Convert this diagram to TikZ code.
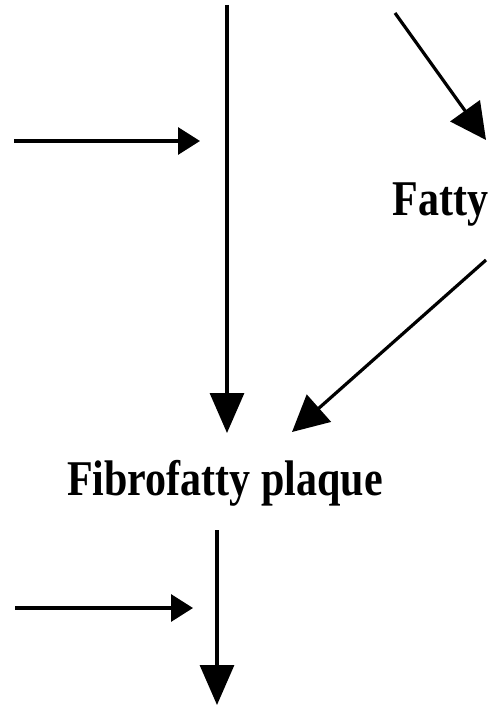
\documentclass[tikz,border=0pt]{standalone}
\usepackage{fontspec}
\setmainfont{Liberation Serif}
\usetikzlibrary{arrows.meta}
\tikzset{
  conn/.style={line width=3.2pt, -{Triangle[length=#1]}},
  bigconn/.style={line width=3.2pt, -{Triangle[length=40pt,width=34pt]}},
  smallconn/.style={line width=3.2pt, -{Triangle[length=22pt,width=27pt]}},
  diagconn/.style={line width=3.2pt, -{Triangle[length=36pt,width=36pt]}},
  label/.style={anchor=base, inner sep=0pt, font=\fontsize{50}{50}\selectfont\bfseries}
}
\begin{document}
\begin{tikzpicture}[x=1pt,y=-1pt]
\useasboundingbox (0,0) rectangle (490,706);
% text nodes
\node[label] (fatty) at (440.5,215) {\scalebox{0.84}[1]{Fatty}};
\node[label] (plaque) at (225,495) {\scalebox{0.84}[1]{Fibrofatty plaque}};
% coordinates
\coordinate (h1s) at (14,141);
\coordinate (h1e) at (200,141);
\coordinate (v1s) at (227,5);
\coordinate (v1e) at (227,433);
\coordinate (d1s) at (395,13);
\coordinate (d1e) at (486,140);
\coordinate (d2s) at (486,260);
\coordinate (d2e) at (292,432);
\coordinate (v2s) at (217,530);
\coordinate (v2e) at (217,705);
\coordinate (h2s) at (15,608);
\coordinate (h2e) at (193,608);
% connectors
\draw[smallconn] (h1s) -- (h1e);
\draw[bigconn] (v1s) -- (v1e);
\draw[diagconn] (d1s) -- (d1e);
\draw[diagconn] (d2s) -- (d2e);
\draw[bigconn] (v2s) -- (v2e);
\draw[smallconn] (h2s) -- (h2e);
\end{tikzpicture}
\end{document}
